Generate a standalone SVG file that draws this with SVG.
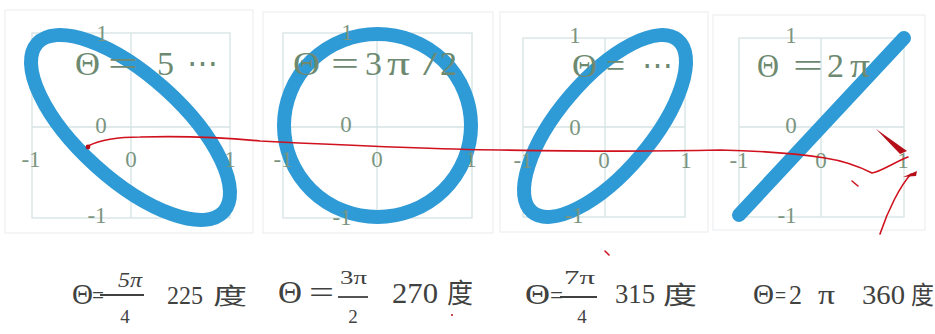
<svg xmlns="http://www.w3.org/2000/svg" width="935" height="334" viewBox="0 0 935 334">
<style>
.frame{fill:none;stroke:#eceff0;stroke-width:1.2}
.grid{fill:none;stroke:#d6e3e3;stroke-width:1.3}
.curve{fill:none;stroke:#2e9ad6;stroke-width:14;stroke-linecap:round}
.tick{font-family:"Liberation Serif","DejaVu Serif",serif;font-size:23px;fill:#7b9581;text-anchor:middle}
.title{font-family:"Liberation Serif","DejaVu Serif",serif;font-size:34px;fill:#6d8a71}
.dots{font-family:"DejaVu Serif","Liberation Serif",serif;font-size:33px;fill:#6d8a71}
.lab{font-family:"Liberation Serif","DejaVu Serif",serif;fill:#3f423f}
.cjk{font-family:"Noto Sans CJK SC","Noto Sans CJK JP",sans-serif;fill:#3f423f}
.bar{stroke:#3f423f;stroke-width:1.8}
.red{fill:none;stroke:#d0121f;stroke-width:1.6;stroke-linecap:round}
.redfill{fill:#b5101a}
</style>

<g id="panel1">
  <rect class="frame" x="5" y="10" width="248" height="223"/>
  <rect class="grid" x="32" y="33" width="198" height="185"/>
  <line class="grid" x1="131" y1="33" x2="131" y2="218"/>
  <line class="grid" x1="32" y1="127" x2="230" y2="127"/>
  <ellipse class="curve" cx="130.5" cy="127.5" rx="125.6" ry="51.8" transform="rotate(42.05 130.5 127.5)"/>
  <text class="tick" x="102" y="41">1</text>
  <text class="tick" x="101" y="133">0</text>
  <text class="tick" x="97" y="223">-1</text>
  <text class="tick" x="31" y="167">-1</text>
  <text class="tick" x="131" y="167">0</text>
  <text class="tick" x="230" y="167">1</text>
  <text class="title" x="75" y="75" textLength="25" lengthAdjust="spacingAndGlyphs">Θ</text>
  <text class="title" x="108" y="75" textLength="30" lengthAdjust="spacingAndGlyphs">=</text>
  <text class="title" x="157" y="75">5</text>
  <text class="dots" x="187" y="75" textLength="31" lengthAdjust="spacingAndGlyphs">⋯</text>
</g>

<g id="panel2">
  <rect class="frame" x="263" y="12" width="230" height="221"/>
  <rect class="grid" x="283" y="33" width="189" height="185"/>
  <line class="grid" x1="377" y1="33" x2="377" y2="218"/>
  <line class="grid" x1="283" y1="127" x2="472" y2="127"/>
  <ellipse class="curve" cx="377.5" cy="125.5" rx="93.5" ry="91.5"/>
  <text class="tick" x="347" y="40">1</text>
  <text class="tick" x="346" y="132">0</text>
  <text class="tick" x="342" y="225">-1</text>
  <text class="tick" x="283" y="167">-1</text>
  <text class="tick" x="377" y="167">0</text>
  <text class="tick" x="471" y="167">1</text>
  <text class="title" x="293" y="75" textLength="27" lengthAdjust="spacingAndGlyphs">Θ</text>
  <text class="title" x="331" y="75" textLength="28" lengthAdjust="spacingAndGlyphs">=</text>
  <text class="title" x="365" y="75">3</text>
  <text class="title" x="387" y="75" textLength="23" lengthAdjust="spacingAndGlyphs">π</text>
  <text class="title" x="423" y="75" textLength="14" lengthAdjust="spacingAndGlyphs">/</text>
  <text class="title" x="440" y="75">2</text>
</g>

<g id="panel3">
  <rect class="frame" x="500" y="12" width="208" height="220"/>
  <rect class="grid" x="523" y="38" width="162" height="179"/>
  <line class="grid" x1="605" y1="38" x2="605" y2="217"/>
  <line class="grid" x1="523" y1="127" x2="685" y2="127"/>
  <ellipse class="curve" cx="605" cy="126" rx="112.7" ry="46.2" transform="rotate(-49.65 605 126)"/>
  <text class="tick" x="575" y="43">1</text>
  <text class="tick" x="575" y="135">0</text>
  <text class="tick" x="574" y="223">-1</text>
  <text class="tick" x="523" y="168">-1</text>
  <text class="tick" x="604" y="168">0</text>
  <text class="tick" x="686" y="168">1</text>
  <text class="title" x="572" y="77" textLength="25" lengthAdjust="spacingAndGlyphs">Θ</text>
  <text class="title" x="606" y="77" textLength="19" lengthAdjust="spacingAndGlyphs">=</text>
  <text class="dots" x="642" y="77" textLength="31" lengthAdjust="spacingAndGlyphs">⋯</text>
</g>

<g id="panel4">
  <rect class="frame" x="713" y="15" width="212" height="215"/>
  <rect class="grid" x="739" y="38" width="165" height="179"/>
  <line class="grid" x1="821" y1="38" x2="821" y2="217"/>
  <line class="grid" x1="739" y1="127" x2="904" y2="127"/>
  <line class="curve" x1="739" y1="215" x2="904" y2="38" stroke-width="15"/>
  <text class="tick" x="791" y="43">1</text>
  <text class="tick" x="791" y="133">0</text>
  <text class="tick" x="787" y="223">-1</text>
  <text class="tick" x="739" y="168">-1</text>
  <text class="tick" x="821" y="168">0</text>
  <text class="tick" x="903" y="168">1</text>
  <text class="title" x="757" y="77" textLength="22" lengthAdjust="spacingAndGlyphs">Θ</text>
  <text class="title" x="793" y="77" textLength="30" lengthAdjust="spacingAndGlyphs">=</text>
  <text class="title" x="827" y="77">2</text>
  <text class="title" x="850" y="77" textLength="20" lengthAdjust="spacingAndGlyphs">π</text>
</g>

<g id="connectors">
  <path class="red" d="M88 146 C100 140,120 137,140 137 C180 136,230 138,260 141 C320 144,420 149,500 150 C560 151,640 152,720 150 C770 151,805 155,825 158 C845 161,860 167,872 173 C880 172,895 162,908 157"/>
  <circle class="redfill" cx="88" cy="147" r="2.4"/>
  <path class="redfill" d="M876 129 L907 151 L900 154 Z"/>
  <path class="red" d="M911 174 C900 186,888 210,880 234" stroke-width="1.3"/>
  <path class="redfill" d="M903 177 L917 171 L916 176 Z"/>
  <path class="red" d="M852 181 L858 186" stroke-width="1.2" stroke="#e0707a"/>
  <path class="red" d="M605 251 L609 255" stroke-width="1.2" stroke="#e0707a"/>
  <circle class="redfill" cx="452" cy="315" r="1"/>
</g>

<g id="labels">
  <g id="label1">
    <text class="lab" x="72" y="304" font-size="30" textLength="21" lengthAdjust="spacingAndGlyphs">Θ</text>
    <text class="lab" x="92" y="304" font-size="26" textLength="12" lengthAdjust="spacingAndGlyphs">=</text>
    <text class="lab" x="118" y="287" font-size="20" font-style="italic" textLength="24" lengthAdjust="spacingAndGlyphs">5π</text>
    <line class="bar" x1="100" y1="295" x2="144" y2="295"/>
    <text class="lab" x="125" y="323" font-size="19" text-anchor="middle">4</text>
    <text class="lab" x="167" y="304" font-size="25" textLength="36" lengthAdjust="spacingAndGlyphs">225</text>
    <text class="cjk" x="213" y="304" font-size="23" textLength="34" lengthAdjust="spacingAndGlyphs">度</text>
  </g>
  <g id="label2">
    <text class="lab" x="278" y="303" font-size="31" textLength="24" lengthAdjust="spacingAndGlyphs">Θ</text>
    <text class="lab" x="309" y="303" font-size="31" textLength="25" lengthAdjust="spacingAndGlyphs">=</text>
    <text class="lab" x="340" y="284" font-size="19" textLength="27" lengthAdjust="spacingAndGlyphs">3π</text>
    <line class="bar" x1="338" y1="297" x2="368" y2="297"/>
    <text class="lab" x="353" y="323" font-size="19" text-anchor="middle">2</text>
    <text class="lab" x="392" y="303" font-size="30" textLength="46" lengthAdjust="spacingAndGlyphs">270</text>
    <text class="cjk" x="447" y="303" font-size="27" textLength="26" lengthAdjust="spacingAndGlyphs">度</text>
  </g>
  <g id="label3">
    <text class="lab" x="525" y="304" font-size="30" textLength="25" lengthAdjust="spacingAndGlyphs">Θ</text>
    <text class="lab" x="550" y="304" font-size="26" textLength="13" lengthAdjust="spacingAndGlyphs">=</text>
    <text class="lab" x="564" y="284" font-size="19" textLength="31" lengthAdjust="spacingAndGlyphs">7π</text>
    <line class="bar" x1="560" y1="297" x2="597" y2="297"/>
    <text class="lab" x="582" y="323" font-size="19" text-anchor="middle">4</text>
    <text class="lab" x="615" y="303" font-size="28" textLength="40" lengthAdjust="spacingAndGlyphs">315</text>
    <text class="cjk" x="663" y="304" font-size="25" textLength="34" lengthAdjust="spacingAndGlyphs">度</text>
  </g>
  <g id="label4">
    <text class="lab" x="753" y="304" font-size="30" textLength="21" lengthAdjust="spacingAndGlyphs">Θ</text>
    <text class="lab" x="775" y="304" font-size="26" textLength="11" lengthAdjust="spacingAndGlyphs">=</text>
    <text class="lab" x="789" y="304" font-size="28" textLength="13" lengthAdjust="spacingAndGlyphs">2</text>
    <text class="lab" x="818" y="304" font-size="28" textLength="17" lengthAdjust="spacingAndGlyphs">π</text>
    <text class="lab" x="862" y="304" font-size="28" textLength="43" lengthAdjust="spacingAndGlyphs">360</text>
    <text class="cjk" x="911" y="304" font-size="25" textLength="23" lengthAdjust="spacingAndGlyphs">度</text>
  </g>
</g>
</svg>
